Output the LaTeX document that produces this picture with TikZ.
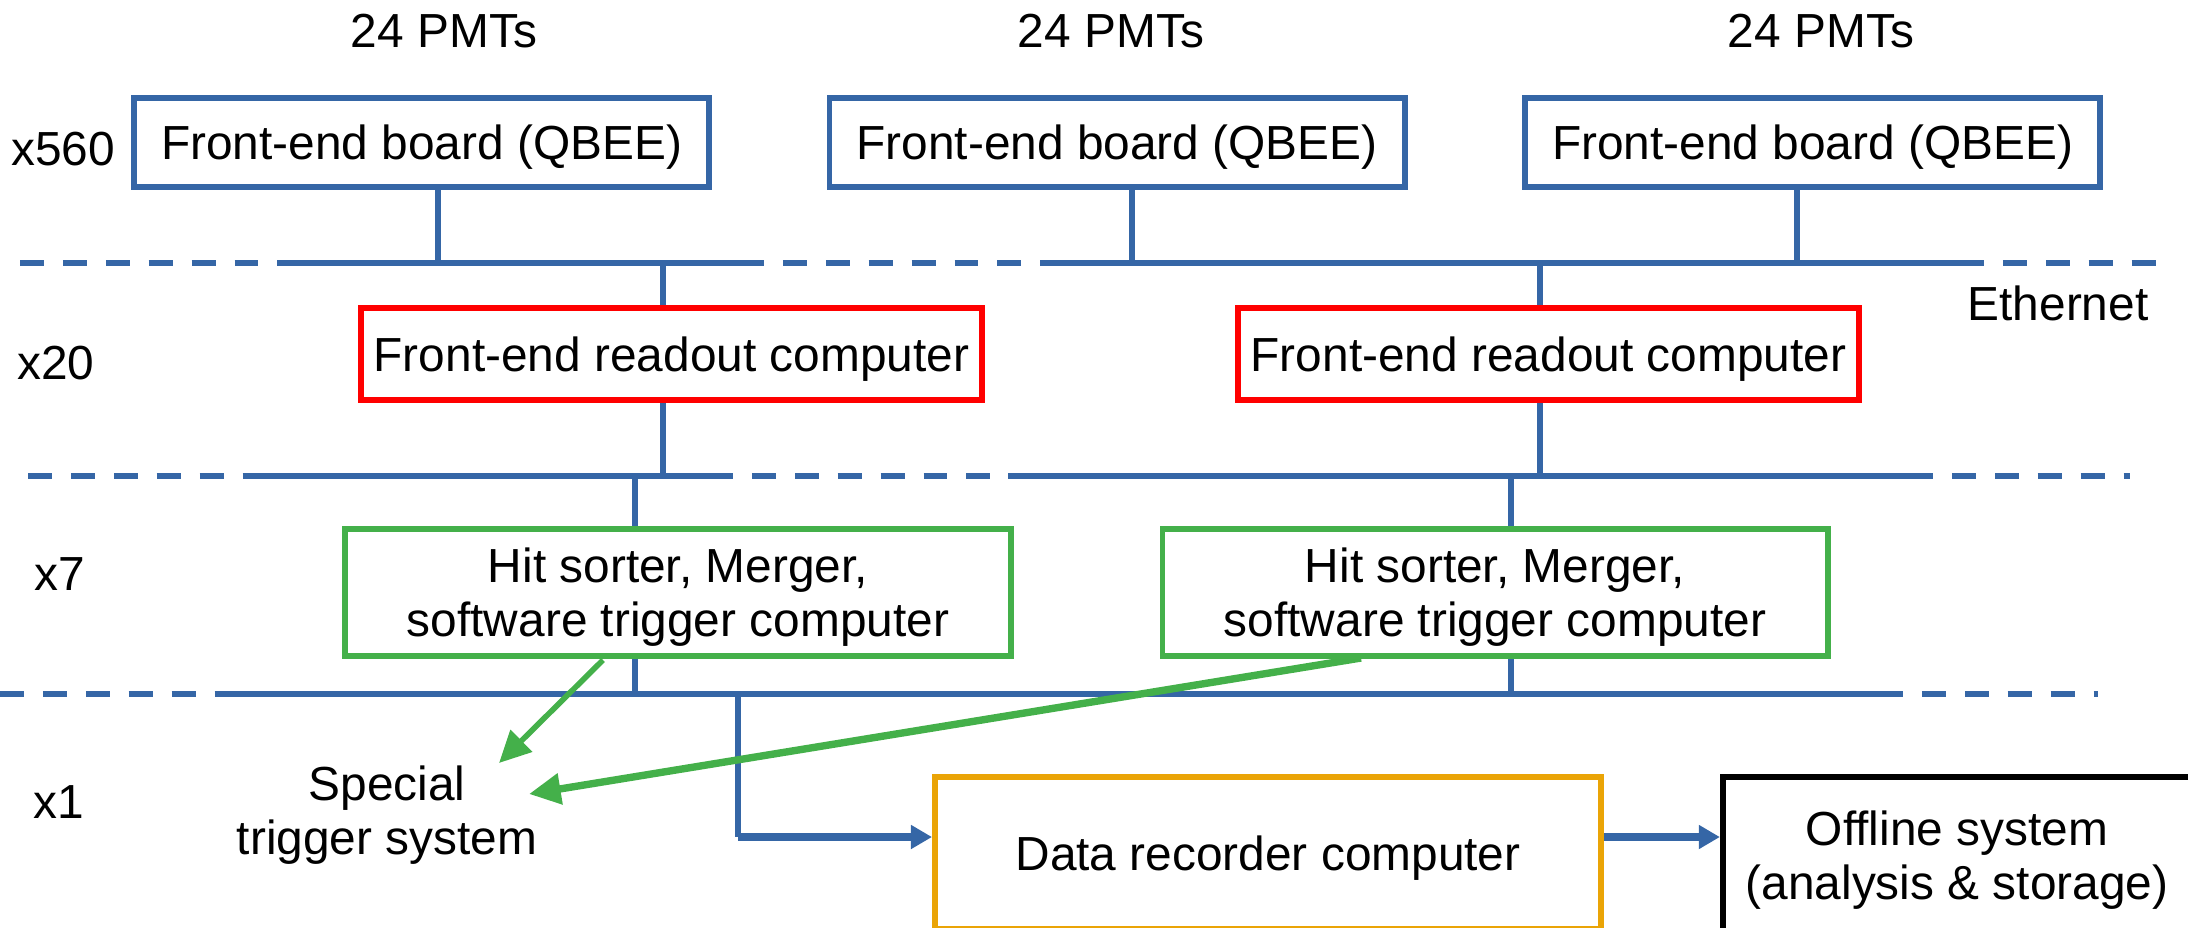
\documentclass[tikz,border=0pt]{standalone}
\usepackage{fontspec}
\setmainfont{Liberation Sans}
\usetikzlibrary{arrows.meta}
\definecolor{lanblue}{HTML}{3566A6}
\definecolor{ferred}{HTML}{FF0000}
\definecolor{hsmgreen}{HTML}{44B04A}
\definecolor{recorange}{HTML}{EAA406}
\tikzset{
	box/.style={draw, line width=1.6pt, inner sep=0pt, align=center, text height=9.74pt, text depth=0pt},
	twoline/.style={text height=25.14pt, text depth=0pt},
	feb/.style={box, draw=lanblue, minimum width=5.75cm, minimum height=0.89cm},
	ferc/.style={box, draw=ferred, line width=1.7pt, minimum width=6.21cm, minimum height=0.92cm},
	hsm/.style={box, twoline, draw=hsmgreen, minimum width=6.65cm, minimum height=1.27cm},
	bus/.style={draw=lanblue, line width=1.6pt},
	busdash/.style={bus, dash pattern=on 6.8pt off 5.4pt},
	link/.style={draw=lanblue, line width=1.5pt},
	datalink/.style={draw=lanblue, line width=2pt, -{Triangle[length=6pt, width=6.5pt]}},
	trig/.style={draw=hsmgreen, -{Triangle[length=9pt, width=8.5pt]}}
}

\begin{document}
\begin{tikzpicture}[x=0.01cm, y=-0.01cm, font=\fontsize{13.6}{15.4}\selectfont]
		%%%%% START %%%%%
		\useasboundingbox (0,0) rectangle (2188,927);
		
		% multiplicities
		\node (m560) at (63,149) {x560};
		\node (m20) at (56,363) {x20};
		\node (m7) at (60,574) {x7};
		\node (m1) at (59,802) {x1};
		\node (eth) at (2058,303) {Ethernet};
		
		% front-end boards
		\node (pmt1) at (444,31) {24 PMTs};
		\node (pmt2) at (1111,31) {24 PMTs};
		\node (pmt3) at (1821,31) {24 PMTs};
		\node[feb] (feb1) at (421.5,142.5) {Front-end board (QBEE)};
		\node[feb] (feb2) at (1117,142.5) {Front-end board (QBEE)};
		\node[feb] (feb3) at (1812.5,142.5) {Front-end board (QBEE)};
		
		% first network
		\draw[busdash] (20,263) -- (279,263);
		\draw[bus] (279,263) -- (740,263);
		\draw[busdash] (740,263) -- (1047,263);
		\draw[bus] (1047,263) -- (1960,263);
		\draw[busdash] (1960,263) -- (2160,263);
		\coordinate (t1a) at (438,263);
		\coordinate (t1b) at (1132,263);
		\coordinate (t1c) at (1797,263);
		\coordinate (t1d) at (663,263);
		\coordinate (t1e) at (1540,263);
		\draw[link] (feb1.south -| t1a) -- (t1a);
		\draw[link] (feb2.south -| t1b) -- (t1b);
		\draw[link] (feb3.south -| t1c) -- (t1c);
		
		% readout computers
		\node[ferc] (ferc1) at (671.5,354) {Front-end readout computer};
		\node[ferc] (ferc2) at (1548.5,354) {Front-end readout computer};
		\draw[link] (t1d) -- (ferc1.north -| t1d);
		\draw[link] (t1e) -- (ferc2.north -| t1e);
		
		% second network
		\draw[busdash] (28,476) -- (245,476);
		\draw[bus] (245,476) -- (709,476);
		\draw[busdash] (709,476) -- (1008,476);
		\draw[bus] (1008,476) -- (1909,476);
		\draw[busdash] (1909,476) -- (2130,476);
		\coordinate (t2a) at (663,476);
		\coordinate (t2b) at (1540,476);
		\coordinate (t2c) at (635,476);
		\coordinate (t2d) at (1511,476);
		\draw[link] (ferc1.south -| t2a) -- (t2a);
		\draw[link] (ferc2.south -| t2b) -- (t2b);
		
		% hit sorters
		\node[hsm] (hsm1) at (678,592.5) {Hit sorter, Merger,\\software trigger computer};
		\node[hsm] (hsm2) at (1495,592.5) {Hit sorter, Merger,\\software trigger computer};
		\draw[link] (t2c) -- (hsm1.north -| t2c);
		\draw[link] (t2d) -- (hsm2.north -| t2d);
		
		% third network
		\draw[busdash] (0,694) -- (221,694);
		\draw[bus] (221,694) -- (1879,694);
		\draw[busdash] (1879,694) -- (2098,694);
		\coordinate (t3a) at (635,694);
		\coordinate (t3b) at (1511,694);
		\coordinate (t3c) at (738,694);
		\draw[link] (hsm1.south -| t3a) -- (t3a);
		\draw[link] (hsm2.south -| t3b) -- (t3b);
		
		% recorder and offline
		\node[box, draw=recorange, minimum width=6.66cm, minimum height=1.52cm] (drc) at (1268,853) {Data recorder computer};
		\node[box, twoline, draw=black, line width=1.7pt, minimum width=4.68cm, minimum height=1.56cm] (off) at (1957,855) {Offline system\\(analysis \& storage)};
		\coordinate (c1) at (738,837);
		\draw[link] (t3c) -- (c1);
		\draw[datalink] (c1) -- (drc.west |- c1);
		\draw[datalink] (drc.east |- c1) -- (off.west |- c1);
		
		% special trigger
		\node[align=center, twoline] (st) at (387,810) {Special\\trigger system};
		\coordinate (g1) at (603,660);
		\coordinate (g2) at (1361,658);
		\coordinate (tip1) at (499,763);
		\coordinate (tip2) at (529,794);
		\draw[trig, line width=1.6pt] (g1) -- (tip1);
		\draw[trig, line width=2.1pt] (g2) -- (tip2);
		%%%%% END %%%%%
\end{tikzpicture}
\end{document}
